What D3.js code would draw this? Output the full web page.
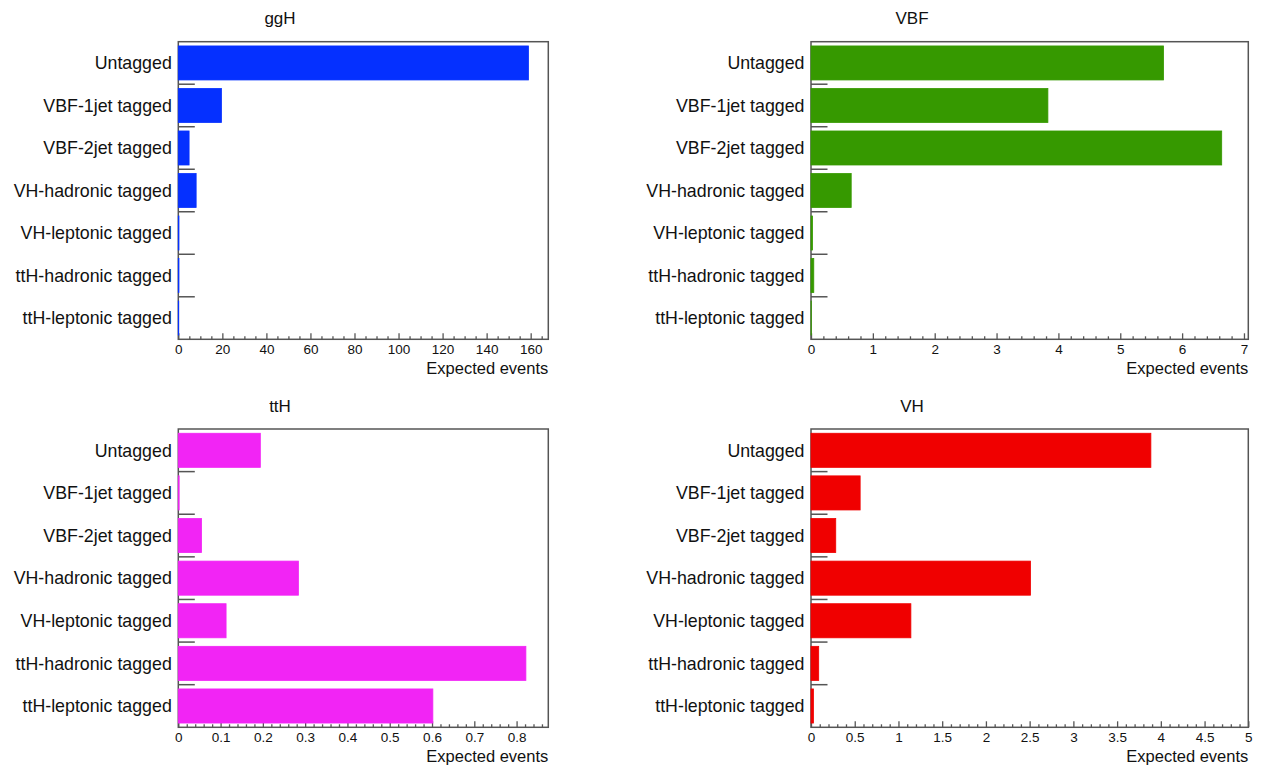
<!DOCTYPE html>
<html>
<head>
<meta charset="utf-8">
<script src="https://cdn.jsdelivr.net/npm/d3@7"></script>
<style>
  body { margin: 0; background: #fff; }
  text { font-family: "Liberation Sans", Arial, Helvetica, sans-serif; fill: #111; }
</style>
</head>
<body>
<div id="canvas"></div>
<script>
const categories = ["Untagged", "VBF-1jet tagged", "VBF-2jet tagged", "VH-hadronic tagged",
  "VH-leptonic tagged", "ttH-hadronic tagged", "ttH-leptonic tagged"];

// expected events per category, one array per production mode
const ggHValues = [159.0, 19.6, 4.9, 8.1, 0.3, 0.3, 0.2];
const vbfValues = [5.70, 3.83, 6.64, 0.65, 0.025, 0.045, 0.005];
const ttHValues = [0.194, 0.002, 0.055, 0.284, 0.113, 0.822, 0.602];
const vhValues = [3.886, 0.562, 0.283, 2.51, 1.142, 0.088, 0.028];

const titles = ["ggH", "VBF", "ttH", "VH"];
const xMax = [168, 7.07, 0.875, 5];

const ggHTicks = [0, 20, 40, 60, 80, 100, 120, 140, 160];
const vbfTicks = [0, 1, 2, 3, 4, 5, 6, 7];
const ttHTicks = [0, 0.1, 0.2, 0.3, 0.4, 0.5, 0.6, 0.7, 0.8];
const vhTicks = [0, 0.5, 1, 1.5, 2, 2.5, 3, 3.5, 4, 4.5, 5];
const minorSteps = [5, 0.2, 0.02, 0.1];

const colors = ["#0530ff", "#369900", "#f224f5", "#f00000"];

const width = 1266;
const height = 767;

const svg = d3.select("#canvas").append("svg")
  .attr("width", width)
  .attr("height", height);

const panels = [
  {title: titles[0], values: ggHValues, ticks: ggHTicks, max: xMax[0], minor: minorSteps[0], color: colors[0], left: 178.3, right: 548.3, top: 41.7, bottom: 339.3},
  {title: titles[1], values: vbfValues, ticks: vbfTicks, max: xMax[1], minor: minorSteps[1], color: colors[1], left: 811, right: 1248.3, top: 41.7, bottom: 339.3},
  {title: titles[2], values: ttHValues, ticks: ttHTicks, max: xMax[2], minor: minorSteps[2], color: colors[2], left: 178.3, right: 548.3, top: 429, bottom: 727.3},
  {title: titles[3], values: vhValues, ticks: vhTicks, max: xMax[3], minor: minorSteps[3], color: colors[3], left: 811, right: 1248.3, top: 429, bottom: 727.3}
];

panels.forEach(p => {
  const g = svg.append("g");
  const rows = categories.map((c, i) => ({name: c, value: p.values[i]}));

  const x = d3.scaleLinear().domain([0, p.max]).range([p.left, p.right]);
  const y = d3.scaleBand().domain(categories).range([p.top, p.bottom])
    .paddingInner(0.2).paddingOuter(0.1);
  const yEdge = d3.scaleBand().domain(categories).range([p.top, p.bottom]);

  // frame
  g.append("rect")
    .attr("x", p.left).attr("y", p.top)
    .attr("width", p.right - p.left).attr("height", p.bottom - p.top)
    .attr("fill", "none").attr("stroke", "#555").attr("stroke-width", 1.5);

  // bin boundary ticks
  g.selectAll(".ytick").data(categories.slice(1)).enter().append("line")
    .attr("x1", p.left).attr("x2", p.left + 16.5)
    .attr("y1", d => yEdge(d)).attr("y2", d => yEdge(d))
    .attr("stroke", "#555").attr("stroke-width", 1.5);

  // minor x ticks
  const minorVals = d3.range(0, p.max + 1e-9, p.minor).map(v => +v.toFixed(4))
    .filter(v => !p.ticks.some(t => Math.abs(t - v) < 1e-6));
  const minorAxis = g.append("g")
    .attr("transform", `translate(0,${p.bottom})`)
    .call(d3.axisBottom(x).tickValues(minorVals).tickSize(-3).tickFormat(""));
  minorAxis.select(".domain").remove();
  minorAxis.selectAll("line").attr("stroke", "#555").attr("stroke-width", 1.3);

  // major x ticks
  const axis = g.append("g")
    .attr("transform", `translate(0,${p.bottom})`)
    .call(d3.axisBottom(x).tickValues(p.ticks).tickSize(-6).tickPadding(5.5).tickFormat(d3.format("~g")));
  axis.select(".domain").remove();
  axis.selectAll("line").attr("stroke", "#555").attr("stroke-width", 1.3);
  axis.selectAll("text")
    .style("font-family", "'Liberation Sans', Arial, sans-serif")
    .style("font-size", "13.5px").attr("fill", "#111");

  // bars
  g.selectAll(".bar").data(rows).enter().append("rect")
    .attr("class", "bar")
    .attr("x", x(0))
    .attr("y", d => y(d.name))
    .attr("width", d => x(d.value) - x(0))
    .attr("height", y.bandwidth())
    .attr("fill", p.color)
    .attr("stroke", p.color).attr("stroke-width", 0.8);

  // category labels
  g.selectAll(".lab").data(categories).enter().append("text")
    .attr("x", p.left - 6.5)
    .attr("y", d => yEdge(d) + yEdge.bandwidth() / 2)
    .attr("dy", "0.35em")
    .attr("text-anchor", "end")
    .style("font-size", "17.8px")
    .text(d => d);

  // axis title
  g.append("text")
    .attr("x", p.right).attr("y", p.bottom + 34.5)
    .attr("text-anchor", "end")
    .style("font-size", "16.5px")
    .text("Expected events");

  // panel title
  g.append("text")
    .attr("x", p.left < 400 ? 280 : 912)
    .attr("y", p.top - 17.5)
    .attr("text-anchor", "middle")
    .style("font-size", "17px")
    .text(p.title);
});
</script>
</body>
</html>
